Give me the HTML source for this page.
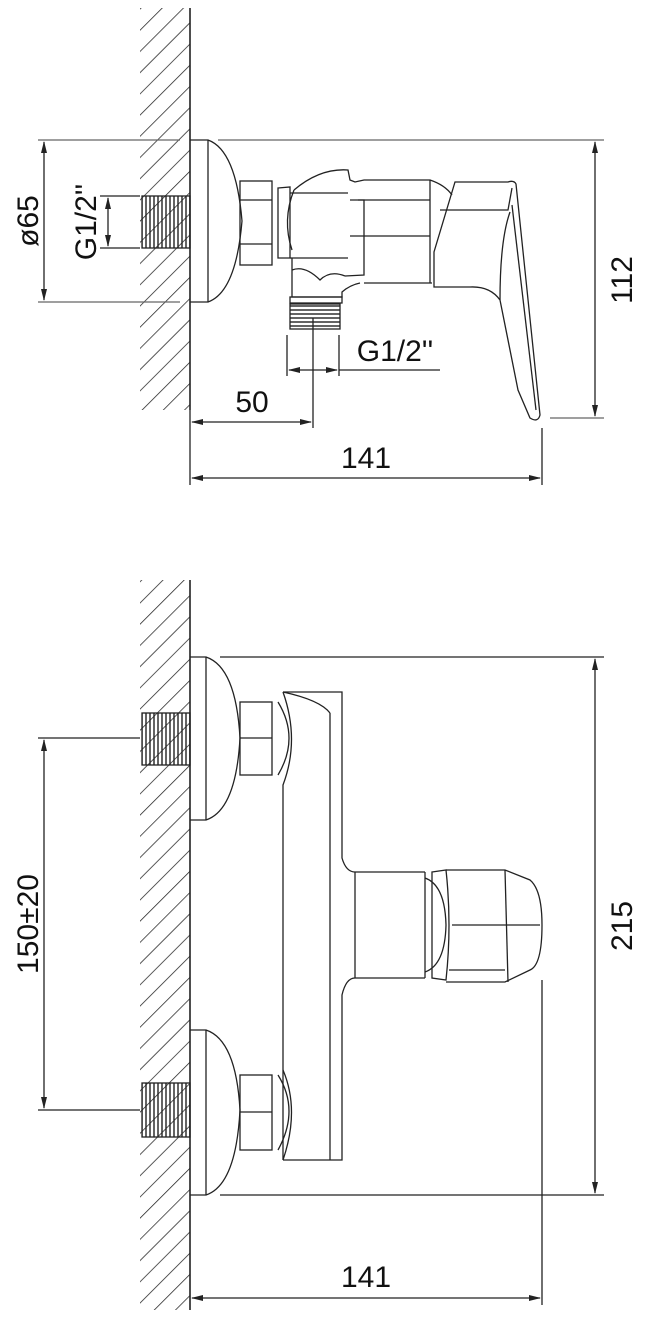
<!DOCTYPE html>
<html><head><style>
html,body{margin:0;padding:0;background:#fff;}
svg{display:block;}
text{font-family:"Liberation Sans",sans-serif;fill:#111;}
</style></head><body>
<svg width="652" height="1320" viewBox="0 0 652 1320" xmlns="http://www.w3.org/2000/svg">
<defs>
<pattern id="h" width="15" height="15" patternUnits="userSpaceOnUse" patternTransform="rotate(45)">
<line x1="0" y1="0" x2="0" y2="15" stroke="#222" stroke-width="1.5"/>
</pattern>
<marker id="a" markerWidth="12" markerHeight="8" refX="11" refY="4" orient="auto-start-reverse" markerUnits="userSpaceOnUse">
<path d="M0,1 L12,4 L0,7 Z" fill="#222"/>
</marker>
<pattern id="t" width="4" height="4" patternUnits="userSpaceOnUse">
<line x1="2" y1="0" x2="2" y2="4" stroke="#222" stroke-width="1.4"/>
</pattern>
<pattern id="t2" width="4" height="4" patternUnits="userSpaceOnUse">
<line x1="0" y1="2" x2="4" y2="2" stroke="#222" stroke-width="1.4"/>
</pattern>
</defs>
<g fill="none" stroke="#222" stroke-width="1.3">
<!-- TOP VIEW -->
<rect x="140" y="8" width="50" height="402" fill="url(#h)" stroke="none"/>
<line x1="190" y1="8" x2="190" y2="410" stroke-width="1.6"/>
<rect x="142" y="196" width="48" height="52" fill="url(#t)"/>
<line x1="38" y1="140" x2="180" y2="140" stroke="#666"/>
<line x1="218" y1="140" x2="604" y2="140" stroke="#666"/>
<line x1="38" y1="302" x2="180" y2="302" stroke="#666"/>
<line x1="44" y1="142" x2="44" y2="300" marker-start="url(#a)" marker-end="url(#a)"/>
<line x1="100" y1="196" x2="140" y2="196"/>
<line x1="100" y1="248" x2="140" y2="248"/>
<line x1="108" y1="198" x2="108" y2="246" marker-start="url(#a)" marker-end="url(#a)"/>
<path d="M190,140 L208,140 Q236,150 242,221 Q236,292 208,302 L190,302"/>
<line x1="208" y1="140" x2="208" y2="302"/>
<rect x="240" y="181" width="32" height="84"/>
<line x1="240" y1="200" x2="272" y2="200"/><line x1="240" y1="244" x2="272" y2="244"/>
<path d="M278,188 L290,187 L290,258 L278,258 Z"/>
<path d="M294,190 Q320,168 348,170 L350,180 L355,182 L364,180 L430,180 Q445,185 452,195"/>
<path d="M294,190 Q282,220 292,250"/>
<line x1="290" y1="193" x2="348" y2="193"/>
<line x1="290" y1="258" x2="348" y2="258"/>
<path d="M358,200 L364,200 L364,275 L345,276"/>
<line x1="350" y1="200" x2="430" y2="200"/><line x1="350" y1="236" x2="430" y2="236"/>
<line x1="430" y1="180" x2="430" y2="283"/>
<line x1="364" y1="283" x2="432" y2="283"/>
<path d="M292,258 L292,297 L342,297 L342,292 Q350,285 360,283"/>
<path d="M292,270 Q305,265 320,280 Q330,270 345,276"/>
<rect x="290" y="297" width="52" height="6"/>
<rect x="290" y="304" width="50" height="25" fill="url(#t2)"/>
<path d="M455,182 L508,182 Q514,180 516,184 L540,415 Q538,423 530,418 L518,390 L500,300 Q490,286 470,287 L434,287 L434,252 Z"/>
<path d="M440,210 L508,210 L512,188"/>
<path d="M500,300 Q500,240 510,212"/>
<path d="M512,205 L536,410"/>
<line x1="550" y1="418" x2="604" y2="418" stroke="#666"/>
<line x1="595" y1="142" x2="595" y2="416" marker-start="url(#a)" marker-end="url(#a)"/>
<line x1="287" y1="335" x2="287" y2="376"/>
<line x1="339" y1="335" x2="339" y2="376"/>
<line x1="313" y1="318" x2="313" y2="428"/>
<line x1="289" y1="370" x2="337" y2="370" marker-start="url(#a)" marker-end="url(#a)"/>
<line x1="339" y1="370" x2="440" y2="370"/>
<line x1="192" y1="422" x2="311" y2="422" marker-start="url(#a)" marker-end="url(#a)"/>
<line x1="190" y1="410" x2="190" y2="485"/>
<line x1="542" y1="428" x2="542" y2="485"/>
<line x1="192" y1="478" x2="540" y2="478" marker-start="url(#a)" marker-end="url(#a)"/>

<!-- BOTTOM VIEW -->
<rect x="140" y="580" width="50" height="730" fill="url(#h)" stroke="none"/>
<line x1="190" y1="580" x2="190" y2="1310" stroke-width="1.6"/>
<rect x="142" y="713" width="48" height="52" fill="url(#t)"/>
<rect x="142" y="1083" width="48" height="54" fill="url(#t)"/>
<line x1="220" y1="657" x2="604" y2="657"/>
<line x1="220" y1="1195" x2="604" y2="1195"/>
<path d="M190,657 L206,657 Q236,667 240,738 Q236,810 206,820 L190,820"/>
<line x1="206" y1="657" x2="206" y2="820"/>
<path d="M190,1030 L206,1030 Q236,1040 240,1110 Q236,1185 206,1195 L190,1195"/>
<line x1="206" y1="1030" x2="206" y2="1195"/>
<rect x="240" y="702" width="32" height="73"/><line x1="240" y1="738" x2="272" y2="738"/>
<rect x="240" y="1075" width="32" height="75"/><line x1="240" y1="1112" x2="272" y2="1112"/>
<path d="M283,692 L342,692 L342,858 Q346,872 355,872 L425,872"/>
<path d="M425,978 L355,978 Q346,978 342,995 L342,1160 L283,1160"/>
<line x1="330" y1="713" x2="330" y2="1160"/>
<path d="M283,692 Q320,700 330,713"/>
<path d="M283,692 Q300,740 283,785 L283,1160"/>
<path d="M278,702 Q300,738 278,775"/>
<path d="M283,1070 Q300,1110 283,1160"/>
<path d="M278,1075 Q300,1110 278,1150"/>
<line x1="355" y1="872" x2="355" y2="978"/>
<path d="M425,878 Q445,885 446,925 Q445,965 425,972"/>
<line x1="425" y1="872" x2="425" y2="978"/>
<path d="M432,872 L446,870 Q452,925 446,980 L432,978 Z"/>
<path d="M446,870 L505,870 L530,880 Q542,890 542,925 Q542,965 530,970 L505,982 L446,982"/>
<line x1="505" y1="870" x2="508" y2="982"/>
<line x1="452" y1="925" x2="540" y2="925"/>
<line x1="449" y1="970" x2="505" y2="970"/>
<line x1="595" y1="659" x2="595" y2="1193" marker-start="url(#a)" marker-end="url(#a)"/>
<line x1="38" y1="738" x2="140" y2="738"/>
<line x1="38" y1="1110" x2="140" y2="1110"/>
<line x1="44" y1="740" x2="44" y2="1108" marker-start="url(#a)" marker-end="url(#a)"/>
<line x1="542" y1="980" x2="542" y2="1305"/>
<line x1="192" y1="1298" x2="540" y2="1298" marker-start="url(#a)" marker-end="url(#a)"/>
</g>
<g font-size="30">
<text x="38" y="221" transform="rotate(-90 38 221)" text-anchor="middle">ø65</text>
<text x="96" y="222" transform="rotate(-90 96 222)" text-anchor="middle">G1/2''</text>
<text x="395" y="361" text-anchor="middle">G1/2''</text>
<text x="252" y="412" text-anchor="middle">50</text>
<text x="366" y="468" text-anchor="middle">141</text>
<text x="632" y="280" transform="rotate(-90 632 280)" text-anchor="middle">112</text>
<text x="38" y="924" transform="rotate(-90 38 924)" text-anchor="middle">150±20</text>
<text x="632" y="926" transform="rotate(-90 632 926)" text-anchor="middle">215</text>
<text x="366" y="1287" text-anchor="middle">141</text>
</g>
</svg>
</body></html>
